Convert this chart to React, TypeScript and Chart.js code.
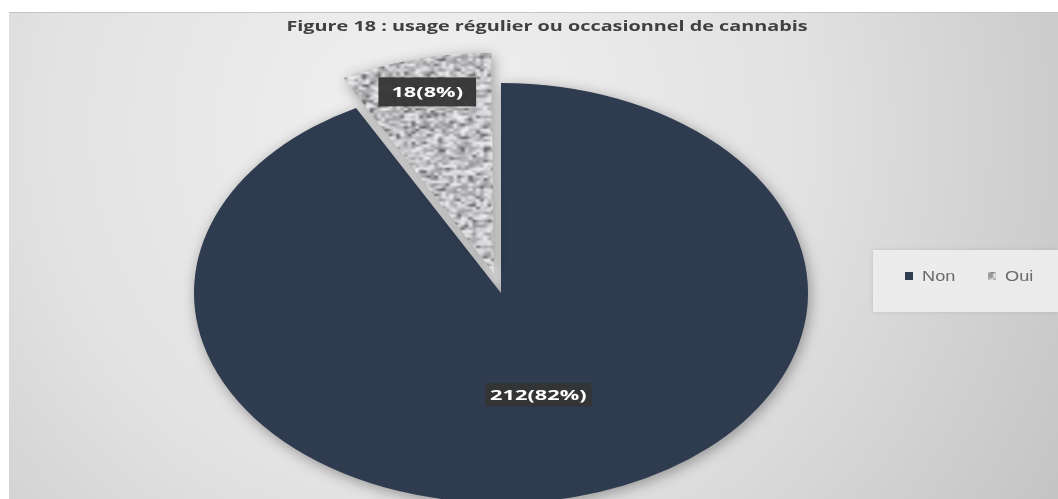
import React, { useEffect, useRef } from 'react';
import { Chart, registerables } from 'chart.js';

Chart.register(...registerables);

const categories = ['Non', 'Oui'];
const counts = [212, 18];
const sliceLabels = ['212(82%)', '18(8%)'];
const titleText = 'Figure 18 : usage régulier ou occasionnel de cannabis';

const W = 1058;
const H = 499;
const STRETCH_X = 1.462;
const TEXT_STRETCH = 1.32;
const NON_COLOR = '#2f3b4f';
const LABEL_RADIUS = [0.5, 0.84];

function makeNoisePattern(): CanvasPattern | string {
  const small = document.createElement('canvas');
  small.width = 50;
  small.height = 50;
  const g = small.getContext('2d');
  if (!g) return '#bdbdbd';
  const img = g.createImageData(50, 50);
  let s = 987654;
  const rnd = () => {
    s = (s * 1103515245 + 12345) & 0x7fffffff;
    return s / 0x7fffffff;
  };
  for (let i = 0; i < 50 * 50; i++) {
    const r = rnd();
    let v = 192 + (r - 0.5) * 110;
    if (r < 0.07) v = 100;
    if (r > 0.92) v = 242;
    img.data[i * 4] = v;
    img.data[i * 4 + 1] = v;
    img.data[i * 4 + 2] = v + 3;
    img.data[i * 4 + 3] = 255;
  }
  g.putImageData(img, 0, 0);
  const big = document.createElement('canvas');
  big.width = 130;
  big.height = 130;
  const bg = big.getContext('2d');
  if (!bg) return '#bdbdbd';
  bg.imageSmoothingEnabled = true;
  bg.drawImage(small, 0, 0, 130, 130);
  const p = bg.createPattern(big, 'repeat');
  return p || '#bdbdbd';
}

function arcOffset(arc: any): number {
  const circ = arc.endAngle - arc.startAngle;
  const off = (arc.options.offset || 0) / 4;
  const fix = 1 - Math.sin(Math.min(Math.PI, circ || 0));
  return off + off * fix;
}

function stretchedText(ctx: any, text: string, x: number, y: number, sx: number) {
  ctx.save();
  ctx.translate(x, y);
  ctx.scale(sx, 1);
  ctx.fillText(text, 0, 0);
  ctx.restore();
}

const decorPlugin = {
  id: 'decor',
  beforeDraw(chart: any) {
    const ctx = chart.ctx;
    ctx.save();
    ctx.fillStyle = '#ffffff';
    ctx.fillRect(0, 0, W, H);
    const grad = ctx.createRadialGradient(420, 130, 20, 420, 130, 820);
    grad.addColorStop(0, '#f0f0f0');
    grad.addColorStop(0.45, '#e2e2e2');
    grad.addColorStop(1, '#bdbdbd');
    ctx.fillStyle = grad;
    ctx.fillRect(9, 12, W - 9, H - 12);
    ctx.strokeStyle = '#c4c4c4';
    ctx.lineWidth = 1;
    ctx.beginPath();
    ctx.moveTo(9, 12.5);
    ctx.lineTo(W, 12.5);
    ctx.stroke();
    ctx.restore();
  },
  beforeDatasetsDraw(chart: any) {
    const ctx = chart.ctx;
    const a = chart.getDatasetMeta(0).data[0];
    ctx.save();
    ctx.translate(a.x, a.y);
    ctx.scale(STRETCH_X, 1);
    ctx.translate(-a.x, -a.y);
    ctx.shadowColor = 'rgba(0,0,0,0.35)';
    ctx.shadowBlur = 14;
    ctx.shadowOffsetX = 2;
    ctx.shadowOffsetY = 3;
  },
  afterDatasetsDraw(chart: any) {
    const ctx = chart.ctx;
    ctx.restore();
    const meta = chart.getDatasetMeta(0);
    ctx.save();
    ctx.font = 'bold 15px "Open Sans", "DejaVu Sans", sans-serif';
    ctx.textAlign = 'center';
    ctx.textBaseline = 'middle';
    meta.data.forEach((arc: any, i: number) => {
      const mid = (arc.startAngle + arc.endAngle) / 2;
      const off = arcOffset(arc);
      const r = off + arc.outerRadius * LABEL_RADIUS[i];
      const px = arc.x + Math.cos(mid) * r * STRETCH_X;
      const py = arc.y + Math.sin(mid) * r;
      const text = sliceLabels[i];
      const tw = ctx.measureText(text).width * 1.45;
      const bw = tw + (i === 1 ? 26 : 10);
      const bh = i === 1 ? 29 : 23;
      ctx.fillStyle = 'rgba(52,52,52,0.95)';
      ctx.fillRect(px - bw / 2, py - bh / 2, bw, bh);
      ctx.fillStyle = '#ffffff';
      stretchedText(ctx, text, px, py + 1, 1.45);
    });
    ctx.restore();
  },
  afterDraw(chart: any) {
    const ctx = chart.ctx;
    ctx.save();
    // title
    ctx.font = 'bold 15px "Open Sans", "DejaVu Sans", sans-serif';
    ctx.fillStyle = '#404040';
    ctx.textAlign = 'center';
    ctx.textBaseline = 'middle';
    stretchedText(ctx, titleText, 547, 27, TEXT_STRETCH);
    // legend
    ctx.shadowColor = 'rgba(0,0,0,0.12)';
    ctx.shadowBlur = 4;
    ctx.fillStyle = 'rgba(238,238,238,0.95)';
    ctx.fillRect(873, 250, W - 873, 62);
    ctx.shadowColor = 'transparent';
    ctx.shadowBlur = 0;
    const colors = chart.data.datasets[0].backgroundColor;
    const xs = [905, 988];
    ctx.font = '14px "Liberation Sans", "DejaVu Sans", sans-serif';
    ctx.textAlign = 'left';
    categories.forEach((c, i) => {
      ctx.fillStyle = colors[i];
      ctx.fillRect(xs[i], 272, 8, 8);
      ctx.fillStyle = '#6a6a6a';
      stretchedText(ctx, c, xs[i] + 17, 277, 1.3);
    });
    ctx.restore();
  },
};

export default function App() {
  const ref = useRef<HTMLCanvasElement | null>(null);
  useEffect(() => {
    if (!ref.current) return;
    const pattern = makeNoisePattern();
    const chart = new Chart(ref.current, {
      type: 'pie',
      data: {
        labels: categories,
        datasets: [
          {
            data: counts,
            backgroundColor: [NON_COLOR, pattern as any],
            borderWidth: 0,
            offset: [0, 81],
            clip: false as any,
          } as any,
        ],
      },
      options: {
        animation: false,
        responsive: false,
        radius: 210,
        rotation: 0,
        layout: { padding: { left: 0, right: 56, top: 87, bottom: 0 } },
        plugins: {
          legend: { display: false },
          title: { display: false },
          tooltip: { enabled: false },
        },
      } as any,
      plugins: [decorPlugin],
    });
    return () => chart.destroy();
  }, []);
  return (
    <div style={{ position: 'fixed', left: 0, top: 0, width: W, height: H }}>
      <canvas ref={ref} width={W} height={H} style={{ display: 'block' }} />
    </div>
  );
}
